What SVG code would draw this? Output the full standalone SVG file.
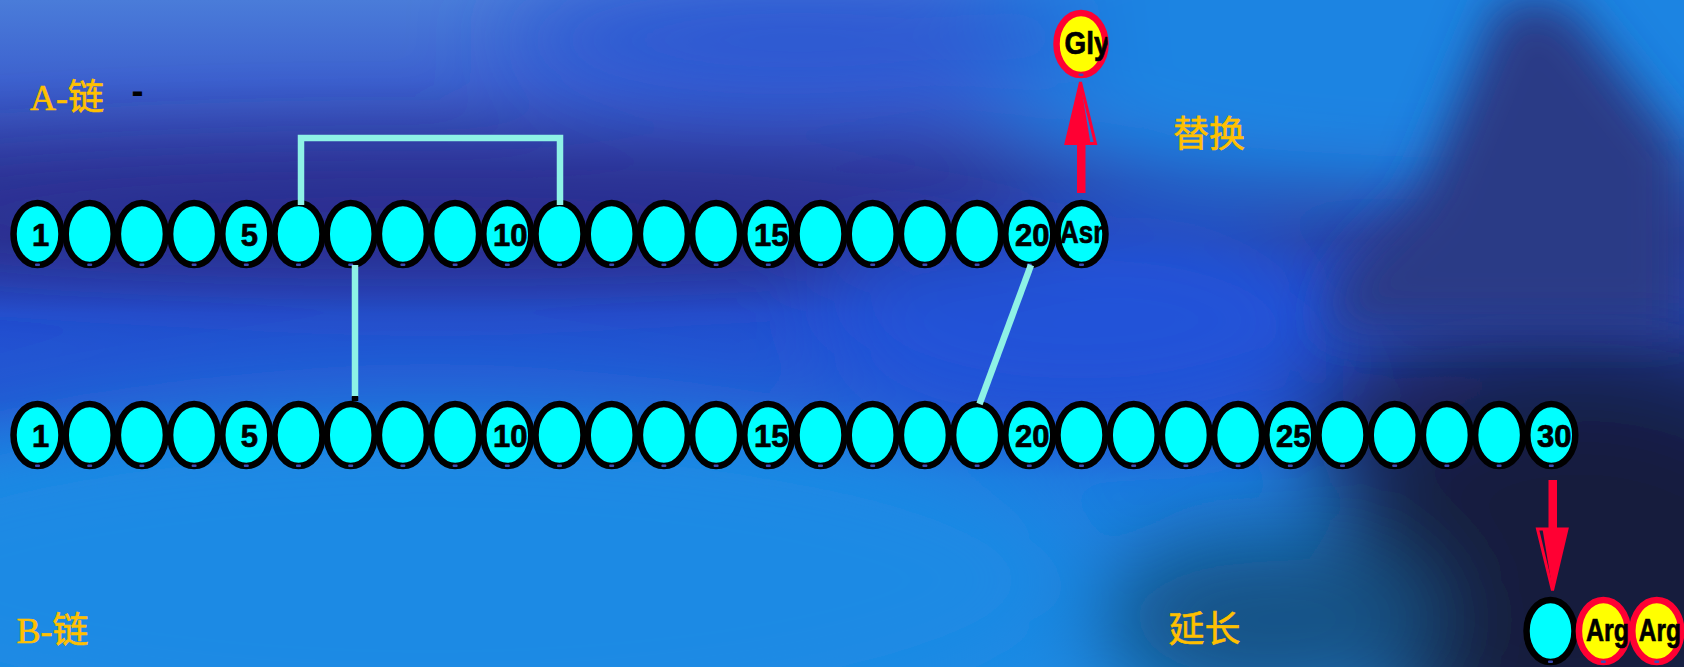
<svg xmlns="http://www.w3.org/2000/svg" xmlns:xlink="http://www.w3.org/1999/xlink" width="1684" height="667" viewBox="0 0 1684 667">
  <style>
    .res { fill: #00ffff; stroke: #000000; stroke-width: 6.5; }
    .sub { fill: #ffff00; stroke: #ff0033; stroke-width: 6.5; }
    .tick { fill: #3c4cb4; }
    .num { font-family: "Liberation Sans", Arial, sans-serif; font-weight: bold; font-size: 31px; fill: #000000; stroke: #000000; stroke-width: 0.7; text-anchor: middle; }
    .aa { font-family: "Liberation Sans", Arial, sans-serif; font-weight: bold; font-size: 32px; fill: #000000; stroke: #000000; stroke-width: 0.7; }
    .cap { font-family: "Liberation Serif", "Noto Sans CJK SC", serif; font-size: 36px; fill: #ffc000; stroke: #ffc000; stroke-width: 0.6; }
    .bond { fill: none; stroke: #8ef2e6; stroke-width: 6.5; stroke-linecap: butt; stroke-linejoin: miter; }
    .red { fill: #ff0033; }
  </style>
  <defs>
    <linearGradient id="sky" x1="0" y1="0" x2="0" y2="1">
      <stop offset="0" stop-color="#4a7cd9"/>
      <stop offset="0.12" stop-color="#3d62cf"/>
      <stop offset="0.27" stop-color="#2e3a9e"/>
      <stop offset="0.36" stop-color="#2b3597"/>
      <stop offset="0.47" stop-color="#2250d2"/>
      <stop offset="0.6" stop-color="#2458d2"/>
      <stop offset="0.72" stop-color="#1c7ee0"/>
      <stop offset="1" stop-color="#1a8ae4"/>
    </linearGradient>
    <filter id="haze" filterUnits="userSpaceOnUse" x="-300" y="-300" width="2300" height="1300">
      <feGaussianBlur stdDeviation="45"/>
    </filter>
    <filter id="haze2" filterUnits="userSpaceOnUse" x="-300" y="-300" width="2300" height="1300">
      <feGaussianBlur stdDeviation="24"/>
    </filter>
    <clipPath id="beadClip">
      <ellipse cx="0" cy="0" rx="27" ry="34"/>
    </clipPath>
    <!-- one residue bead, centred on the origin -->
    <g id="bead">
      <ellipse class="res" rx="24" ry="31"/>
      <rect class="tick" x="-2.5" y="29.5" width="5" height="2.5" rx="1"/>
    </g>
    <g id="subBead">
      <ellipse class="sub" rx="24.5" ry="31"/>
      <rect class="tick" x="-2.5" y="29.5" width="5" height="2.5" rx="1"/>
    </g>
  </defs>

  <!-- backdrop -->
  <g id="backdrop">
    <rect width="1684" height="667" fill="url(#sky)"/>
    <g filter="url(#haze)">
      <ellipse cx="1450" cy="30" rx="520" ry="170" fill="#1e84e2"/>
      <ellipse cx="800" cy="40" rx="300" ry="60" fill="#2c56d2"/>
      <ellipse cx="1080" cy="320" rx="260" ry="110" fill="#2252d8"/>
      <ellipse cx="420" cy="215" rx="640" ry="55" fill="#2b2f90"/>
      <ellipse cx="430" cy="580" rx="640" ry="170" fill="#1a8ae4"/>
      <ellipse cx="1560" cy="420" rx="260" ry="110" fill="#1a2562"/>
      <ellipse cx="1580" cy="580" rx="250" ry="190" fill="#121a3e"/>
      <ellipse cx="1270" cy="620" rx="170" ry="90" fill="#145286"/>
    </g>
    <g filter="url(#haze2)">
      <polygon points="1500,0 1565,0 1684,150 1684,330 1320,330 1350,265 1420,195" fill="#2b3a86"/>
    </g>
  </g>

  <!-- chain captions -->
  <g id="captions">
    <text class="cap" x="30" y="109.5">A-链</text>
    <text x="131.6" y="103" font-family="Liberation Sans, Arial, sans-serif" font-weight="bold" font-size="36" fill="#000000">-</text>
    <text class="cap" x="16.5" y="643">B-链</text>
    <text class="cap" x="1173" y="147" font-family="Noto Sans CJK SC, sans-serif">替换</text>
    <text class="cap" x="1168.5" y="642" font-family="Noto Sans CJK SC, sans-serif">延长</text>
  </g>

  <!-- A chain: 21 residues -->
  <g id="chainA">
    <g id="a1" transform="translate(37.5,234)"><use href="#bead"/><text class="num" x="3" y="11.5">1</text></g>
    <g id="a2" transform="translate(89.7,234)"><use href="#bead"/></g>
    <g id="a3" transform="translate(141.9,234)"><use href="#bead"/></g>
    <g id="a4" transform="translate(194.1,234)"><use href="#bead"/></g>
    <g id="a5" transform="translate(246.3,234)"><use href="#bead"/><text class="num" x="3" y="11.5">5</text></g>
    <g id="a6" transform="translate(298.5,234)"><use href="#bead"/></g>
    <g id="a7" transform="translate(350.7,234)"><use href="#bead"/></g>
    <g id="a8" transform="translate(402.9,234)"><use href="#bead"/></g>
    <g id="a9" transform="translate(455.1,234)"><use href="#bead"/></g>
    <g id="a10" transform="translate(507.3,234)"><use href="#bead"/><text class="num" x="3" y="11.5">10</text></g>
    <g id="a11" transform="translate(559.5,234)"><use href="#bead"/></g>
    <g id="a12" transform="translate(611.7,234)"><use href="#bead"/></g>
    <g id="a13" transform="translate(663.9,234)"><use href="#bead"/></g>
    <g id="a14" transform="translate(716.1,234)"><use href="#bead"/></g>
    <g id="a15" transform="translate(768.3,234)"><use href="#bead"/><text class="num" x="3" y="11.5">15</text></g>
    <g id="a16" transform="translate(820.5,234)"><use href="#bead"/></g>
    <g id="a17" transform="translate(872.7,234)"><use href="#bead"/></g>
    <g id="a18" transform="translate(924.9,234)"><use href="#bead"/></g>
    <g id="a19" transform="translate(977.1,234)"><use href="#bead"/></g>
    <g id="a20" transform="translate(1029.3,234)"><use href="#bead"/><text class="num" x="3" y="11.5">20</text></g>
    <g id="a21" transform="translate(1081.5,234)"><use href="#bead"/><text class="aa" x="-21.5" y="9" textLength="49" lengthAdjust="spacingAndGlyphs" clip-path="url(#beadClip)">Asn</text></g>
  </g>

  <!-- substituted residue -->
  <g id="gly" transform="translate(1081,44)">
    <use href="#subBead"/>
    <text class="aa" x="-16.4" y="9.5" textLength="45" lengthAdjust="spacingAndGlyphs" clip-path="url(#beadClip)">Gly</text>
  </g>

  <!-- B chain: 30 residues -->
  <g id="chainB">
    <g id="b1" transform="translate(37.5,435)"><use href="#bead"/><text class="num" x="3" y="11.5">1</text></g>
    <g id="b2" transform="translate(89.7,435)"><use href="#bead"/></g>
    <g id="b3" transform="translate(141.9,435)"><use href="#bead"/></g>
    <g id="b4" transform="translate(194.1,435)"><use href="#bead"/></g>
    <g id="b5" transform="translate(246.3,435)"><use href="#bead"/><text class="num" x="3" y="11.5">5</text></g>
    <g id="b6" transform="translate(298.5,435)"><use href="#bead"/></g>
    <g id="b7" transform="translate(350.7,435)"><use href="#bead"/></g>
    <g id="b8" transform="translate(402.9,435)"><use href="#bead"/></g>
    <g id="b9" transform="translate(455.1,435)"><use href="#bead"/></g>
    <g id="b10" transform="translate(507.3,435)"><use href="#bead"/><text class="num" x="3" y="11.5">10</text></g>
    <g id="b11" transform="translate(559.5,435)"><use href="#bead"/></g>
    <g id="b12" transform="translate(611.7,435)"><use href="#bead"/></g>
    <g id="b13" transform="translate(663.9,435)"><use href="#bead"/></g>
    <g id="b14" transform="translate(716.1,435)"><use href="#bead"/></g>
    <g id="b15" transform="translate(768.3,435)"><use href="#bead"/><text class="num" x="3" y="11.5">15</text></g>
    <g id="b16" transform="translate(820.5,435)"><use href="#bead"/></g>
    <g id="b17" transform="translate(872.7,435)"><use href="#bead"/></g>
    <g id="b18" transform="translate(924.9,435)"><use href="#bead"/></g>
    <g id="b19" transform="translate(977.1,435)"><use href="#bead"/></g>
    <g id="b20" transform="translate(1029.3,435)"><use href="#bead"/><text class="num" x="3" y="11.5">20</text></g>
    <g id="b21" transform="translate(1081.5,435)"><use href="#bead"/></g>
    <g id="b22" transform="translate(1133.7,435)"><use href="#bead"/></g>
    <g id="b23" transform="translate(1185.9,435)"><use href="#bead"/></g>
    <g id="b24" transform="translate(1238.1,435)"><use href="#bead"/></g>
    <g id="b25" transform="translate(1290.3,435)"><use href="#bead"/><text class="num" x="3" y="11.5">25</text></g>
    <g id="b26" transform="translate(1342.5,435)"><use href="#bead"/></g>
    <g id="b27" transform="translate(1394.7,435)"><use href="#bead"/></g>
    <g id="b28" transform="translate(1446.9,435)"><use href="#bead"/></g>
    <g id="b29" transform="translate(1499.1,435)"><use href="#bead"/></g>
    <g id="b30" transform="translate(1551.3,435)"><use href="#bead"/><text class="num" x="3" y="11.5">30</text></g>
  </g>

  <!-- elongated B chain end -->
  <g id="ext30" transform="translate(1550.5,631)"><use href="#bead"/></g>
  <g id="arg31" transform="translate(1603.4,631)">
    <use href="#subBead"/>
    <text class="aa" x="-17.4" y="10" textLength="43" lengthAdjust="spacingAndGlyphs">Arg</text>
  </g>
  <g id="arg32" transform="translate(1656.8,631)">
    <use href="#subBead"/>
    <text class="aa" x="-18" y="10" textLength="42" lengthAdjust="spacingAndGlyphs">Arg</text>
  </g>

  <!-- disulfide bonds and change arrows -->
  <g id="connectors">
    <path class="bond" d="M301,205 V138 H560 V205"/>
    <line class="bond" x1="355" y1="265" x2="355" y2="397"/>
    <rect x="351.75" y="396" width="6.5" height="5" fill="#000000"/>
    <line class="bond" x1="1031" y1="265" x2="979.5" y2="404"/>

    <!-- Asn -> Gly -->
    <rect class="red" x="1077" y="142" width="8.5" height="51"/>
    <polygon points="1066,143.5 1095.5,143.5 1080.5,82" fill="none" stroke="#ff0033" stroke-width="3"/>
    <polygon class="red" points="1066,143.5 1090.5,143.5 1080.5,83"/>

    <!-- B30 -> added Arg residues -->
    <rect class="red" x="1548.5" y="480" width="8.5" height="51"/>
    <polygon points="1537.5,529 1567,529 1552.5,590.5" fill="none" stroke="#ff0033" stroke-width="3"/>
    <polygon class="red" points="1542.5,529 1567,529 1552.5,589.5"/>
  </g>
</svg>
